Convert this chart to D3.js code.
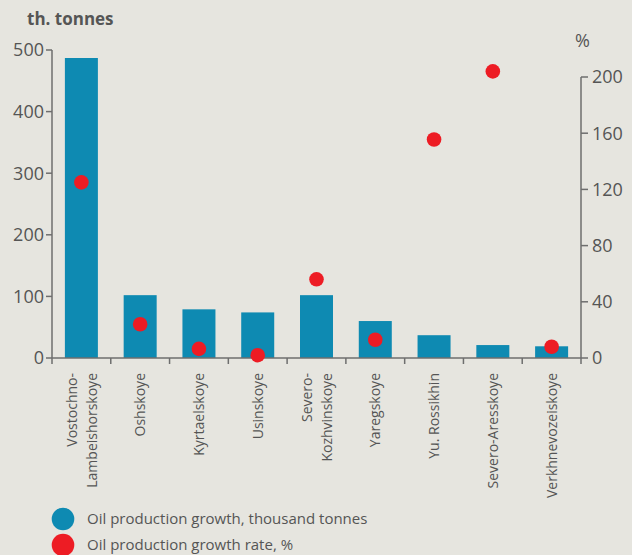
<!DOCTYPE html>
<html>
<head>
<meta charset="utf-8">
<script src="https://cdn.jsdelivr.net/npm/d3@7"></script>
<style>
  html, body { margin: 0; padding: 0; background: #e6e5df; }
  svg { display: block; }
  text { font-family: "Open Sans", sans-serif; fill: #555; }
</style>
</head>
<body>
<svg id="chart" width="632" height="555"></svg>
<script>
// ---- data ----
const fields = ["Vostochno-\nLambeishorskoye", "Oshskoye", "Kyrtaelskoye", "Usinskoye",
  "Severo-\nKozhvinskoye", "Yaregskoye", "Yu. Rossikhin", "Severo-Aresskoye", "Verkhnevozeiskoye"];
const growthTonnes = [487, 102, 79, 74, 102, 60, 37, 21, 19];
const growthRate = [125, 24, 6.5, 2, 56, 13, 155.5, 204, 8];
const leftTicks = [0, 100, 200, 300, 400, 500];
const rightTicks = [0, 40, 80, 120, 160, 200];
const legendItems = ["Oil production growth, thousand tonnes", "Oil production growth rate, %"];

const colors = { bar: "#0e8ab2", dot: "#ed1c24", axis: "#6e6e6e" };

const svg = d3.select("#chart");
const x0 = 52, x1 = 581, yBase = 358;

const x = d3.scaleBand().domain(fields).range([x0, x1]).paddingInner(0.44).paddingOuter(0.22);
const xb = d3.scaleBand().domain(fields).range([x0, x1]).padding(0);
const yL = d3.scaleLinear().domain([0, 500]).range([yBase, 50]);
const yR = d3.scaleLinear().domain([0, 200]).range([yBase, 77]);

// bars
svg.append("g").selectAll("rect").data(fields).join("rect")
  .attr("x", d => xb(d) + xb.bandwidth() / 2 - 16.5)
  .attr("width", 33)
  .attr("y", (d, i) => yL(growthTonnes[i]))
  .attr("height", (d, i) => yBase - yL(growthTonnes[i]))
  .attr("fill", colors.bar);

// axes
const axG = svg.append("g").attr("stroke", colors.axis).attr("stroke-width", 1.5).attr("fill", "none");
// left axis
axG.append("line").attr("x1", x0).attr("x2", x0).attr("y1", yL(500)).attr("y2", yBase + 6);
axG.selectAll(".lt").data(leftTicks).join("line")
  .attr("x1", x0 - 6).attr("x2", x0).attr("y1", d => yL(d)).attr("y2", d => yL(d));
// right axis
axG.append("line").attr("x1", x1).attr("x2", x1).attr("y1", yR(200)).attr("y2", yBase + 6);
axG.selectAll(".rt").data(rightTicks).join("line")
  .attr("x1", x1).attr("x2", x1 + 7).attr("y1", d => yR(d)).attr("y2", d => yR(d));
// x axis
axG.append("line").attr("x1", x0).attr("x2", x1).attr("y1", yBase).attr("y2", yBase);
axG.selectAll(".xt").data(fields.slice(1)).join("line")
  .attr("x1", d => xb(d)).attr("x2", d => xb(d)).attr("y1", yBase).attr("y2", yBase + 6);

// tick labels
svg.append("g").selectAll("text").data(leftTicks).join("text")
  .attr("x", x0 - 8).attr("y", d => yL(d)).attr("dy", "0.35em")
  .attr("text-anchor", "end").attr("font-size", 18).text(d => d);
svg.append("g").selectAll("text").data(rightTicks).join("text")
  .attr("x", x1 + 11).attr("y", d => yR(d)).attr("dy", "0.35em")
  .attr("text-anchor", "start").attr("font-size", 18).text(d => d);

// category labels
const lab = svg.append("g").selectAll("g").data(fields).join("g")
  .attr("transform", d => `translate(${xb(d) + xb.bandwidth() / 2},373) rotate(-90)`);
lab.each(function(d) {
  const lines = d.split("\n");
  const g = d3.select(this);
  lines.forEach((ln, j) => {
    const off = lines.length === 1 ? 0 : (j === 0 ? -9 : 11);
    g.append("text").attr("x", 0).attr("y", off).attr("dy", "0.35em")
      .attr("text-anchor", "end").attr("font-size", 14).text(ln);
  });
});

// dots
svg.append("g").selectAll("circle").data(fields).join("circle")
  .attr("cx", d => xb(d) + xb.bandwidth() / 2)
  .attr("cy", (d, i) => yR(growthRate[i]))
  .attr("r", 7.3)
  .attr("fill", colors.dot);

// axis titles
svg.append("text").attr("x", 27).attr("y", 25).attr("font-size", 17).attr("font-weight", "bold")
  .text("th. tonnes");
svg.append("text").attr("x", 575).attr("y", 47).attr("font-size", 18).text("%");

// legend
const lg = svg.append("g").selectAll("g").data(legendItems).join("g")
  .attr("transform", (d, i) => `translate(63,${519 + i * 26})`);
lg.append("circle").attr("r", 11.3).attr("fill", (d, i) => i === 0 ? colors.bar : colors.dot);
lg.append("text").attr("x", 24).attr("y", 0).attr("dy", "0.35em").attr("font-size", 15).text(d => d);
</script>
</body>
</html>
